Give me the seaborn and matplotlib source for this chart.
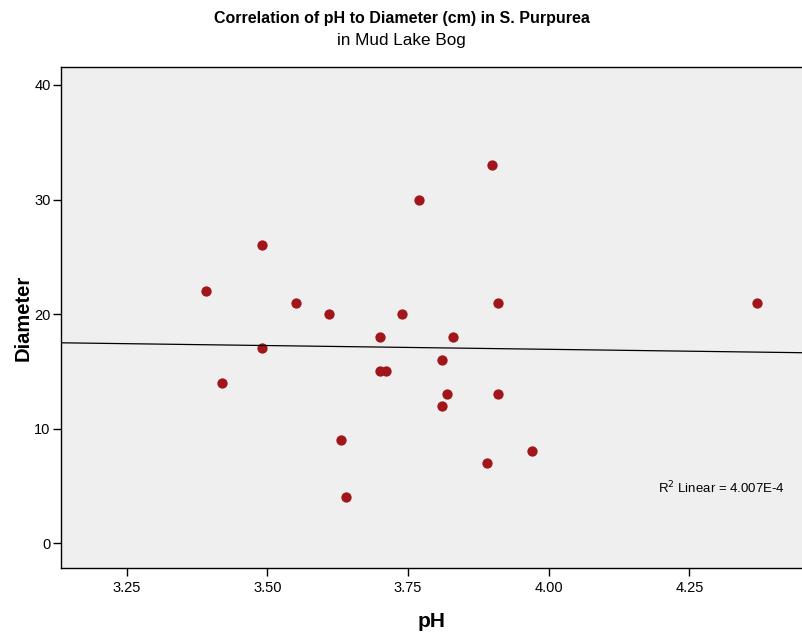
import numpy as np
import pandas as pd
import seaborn as sns
import matplotlib.pyplot as plt

# values
ph = [3.39, 3.42, 3.49, 3.49, 3.55, 3.61, 3.63, 3.64, 3.70, 3.70, 3.71, 3.74,
      3.77, 3.81, 3.81, 3.82, 3.83, 3.89, 3.90, 3.91, 3.91, 3.97, 4.37]
diameter = [22, 14, 26, 17, 21, 20, 9, 4, 18, 15, 15, 20,
            30, 16, 12, 13, 18, 7, 33, 21, 13, 8, 21]
x_ticks = [3.25, 3.50, 3.75, 4.00, 4.25]
y_ticks = [0, 10, 20, 30, 40]

df = pd.DataFrame({"pH": ph, "Diameter": diameter})

sns.set_style("white")
plt.rcParams['font.family'] = ['Liberation Sans', 'DejaVu Sans']
plt.rcParams['text.color'] = 'black'
plt.rcParams['axes.labelcolor'] = 'black'
plt.rcParams['xtick.color'] = 'black'
plt.rcParams['ytick.color'] = 'black'

fig = plt.figure(figsize=(8.03, 6.37), dpi=100)
ax = fig.add_axes([0.076, 0.1083, 0.924, 0.7865])
ax.set_facecolor("#EFEFEF")
ax.set_xlim(3.133, 4.452)
ax.set_ylim(-2.18, 41.57)

sns.regplot(data=df, x="pH", y="Diameter", ax=ax, ci=None, truncate=False,
            scatter_kws={"s": 55, "color": "#A0161B", "linewidths": 0, "alpha": 1},
            line_kws={"color": "black", "lw": 0.9})

ax.set_xticks(x_ticks)
ax.set_xticklabels(["%.2f" % t for t in x_ticks])
ax.set_yticks(y_ticks)
ax.tick_params(axis="both", direction="out", length=6, width=1, color="black",
               labelsize=10.5, bottom=True, left=True)
ax.tick_params(axis="y", pad=1.5)
for s in ["left", "bottom", "top"]:
    ax.spines[s].set_color("black")
    ax.spines[s].set_linewidth(1)
ax.spines["right"].set_visible(False)

ax.set_xlabel("pH", fontsize=15, fontweight="bold", labelpad=12)
ax.set_ylabel("Diameter", fontsize=14.5, fontweight="bold", labelpad=1)

ax.text(0.976, 0.16, "R$^2$ Linear = 4.007E-4", transform=ax.transAxes,
        ha="right", va="center", fontsize=9.5)

fig.text(0.5, 0.971, "Correlation of pH to Diameter (cm) in S. Purpurea",
         ha="center", va="center", fontsize=11.5, fontweight="bold")
fig.text(0.5, 0.937, "in Mud Lake Bog", ha="center", va="center", fontsize=12.3)

fig.savefig("out.png", dpi=100)
